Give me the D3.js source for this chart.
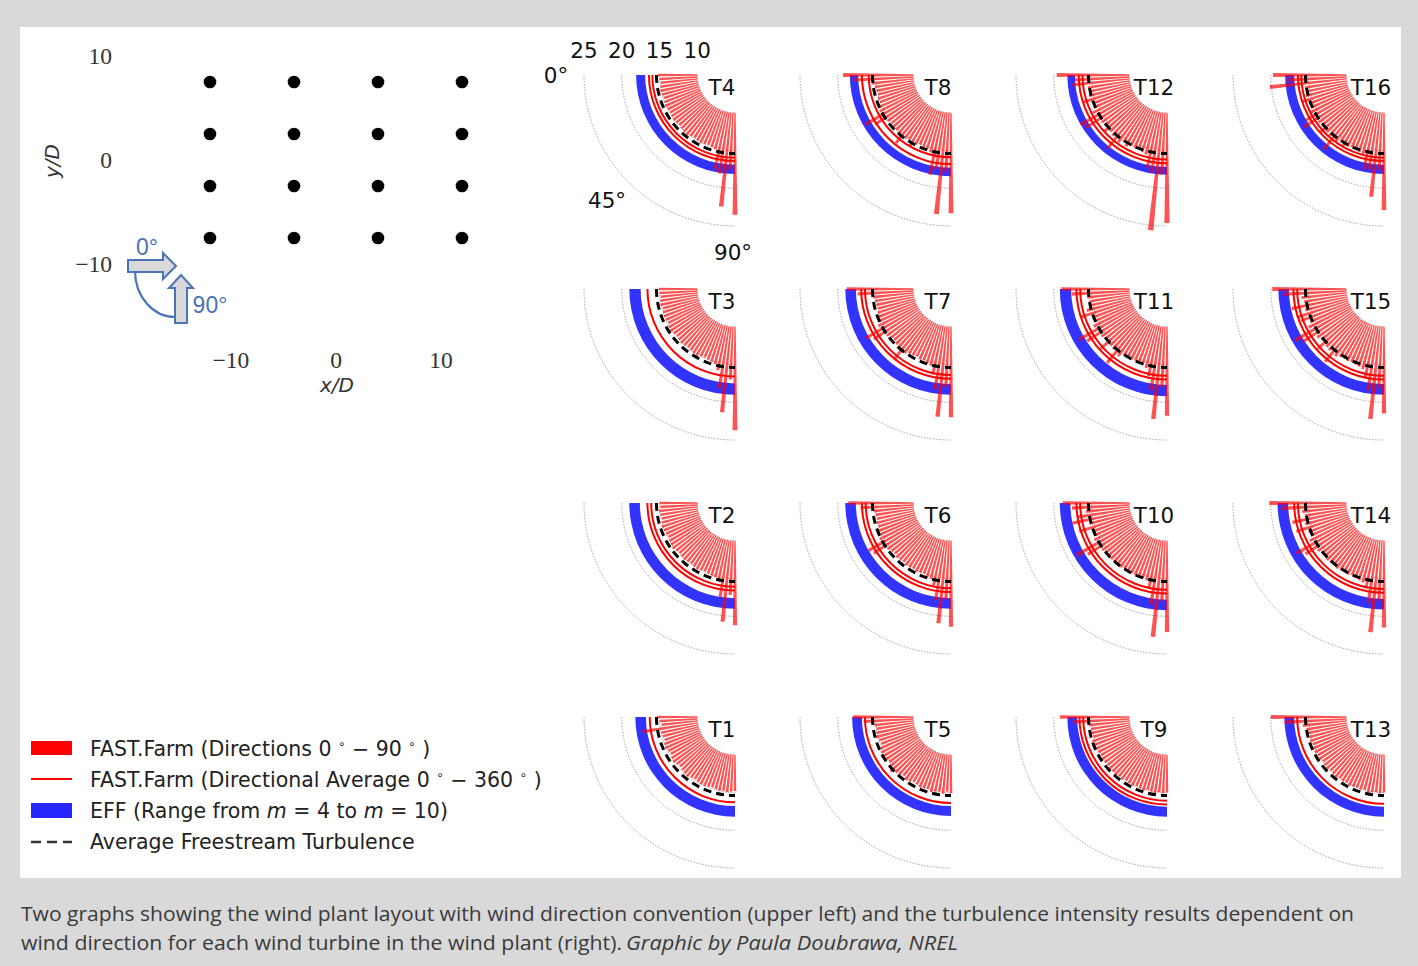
<!DOCTYPE html>
<html>
<head>
<meta charset="utf-8">
<script src="https://cdn.jsdelivr.net/npm/d3@7"></script>
<style>
  body { margin: 0; background: #d9d9d9; }
  svg { display: block; }
</style>
</head>
<body>
<script>
// wind directions of the bars (deg)
const angles = [0, 3, 6, 9, 12, 15, 18, 21, 24, 27, 30, 33, 36, 39, 42, 45,
  48, 51, 54, 57, 60, 63, 66, 69, 72, 75, 78, 81, 84, 87, 90];

// FAST.Farm turbulence intensity per direction (%)
const tiT1 = [15.3,15.0,14.8,17.4,15.0,14.9,14.8,15.0,15.1,14.9,14.8,15.0,15.1,14.9,14.8,14.9,15.0,15.1,14.9,14.8,14.9,15.0,15.0,14.9,14.8,14.9,15.0,14.9,15.0,14.9,14.8];
const tiT2 = [15.0,14.9,15.1,15.0,14.9,15.0,15.2,15.1,15.0,14.9,15.0,15.1,15.2,15.0,14.9,15.0,15.1,15.0,14.9,15.0,15.1,15.0,14.9,15.0,15.1,15.2,15.6,17.6,20.8,17.2,21.2];
const tiT3 = [15.1,15.0,14.9,15.0,15.1,14.9,15.0,15.1,15.0,14.9,15.1,15.2,15.0,14.9,15.0,15.1,15.0,14.9,15.0,15.1,15.2,15.0,14.9,15.0,15.1,15.3,16.0,18.3,21.4,17.0,23.7];
const tiT4 = [15.2,15.0,14.9,15.0,15.1,15.0,14.9,15.0,15.1,15.0,14.9,15.0,15.1,15.0,14.9,15.0,15.1,15.2,15.0,14.9,15.0,15.1,15.0,14.9,15.0,15.2,17.8,18.2,22.5,17.5,23.5];
const tiT5 = [18.0,16.6,15.2,15.0,15.1,15.3,15.0,14.9,15.2,15.4,15.6,15.3,15.1,15.5,15.8,15.4,15.2,15.0,15.3,15.1,14.9,15.0,15.2,15.1,15.0,15.3,15.1,15.0,15.2,14.9,15.1];
const tiT6 = [18.6,17.0,15.3,15.1,15.0,15.2,15.1,15.3,15.2,15.6,17.6,17.2,15.4,15.1,15.0,15.2,15.1,15.0,15.2,15.1,15.0,15.2,15.1,15.0,15.3,15.4,16.2,18.0,21.0,17.8,21.4];
const tiT7 = [18.8,17.4,15.4,15.2,15.1,15.0,15.2,15.3,15.4,15.8,18.0,17.2,15.5,15.2,15.1,15.3,15.6,16.8,15.5,15.2,15.1,15.0,15.2,15.1,15.3,15.5,16.6,18.4,22.0,18.0,22.0];
const tiT8 = [19.3,18.0,15.5,15.2,15.1,15.0,15.2,15.1,15.3,15.6,18.1,17.0,15.4,15.1,15.2,15.3,15.5,16.6,15.4,15.2,15.8,15.3,15.1,15.2,15.3,15.6,18.5,17.6,23.5,17.8,23.3];
const tiT9 = [19.2,17.5,15.4,15.2,15.3,15.1,15.4,15.6,15.3,15.2,15.1,15.3,15.2,15.1,15.4,15.2,15.3,15.1,15.2,15.0,15.1,15.2,15.0,15.1,15.2,15.0,15.1,15.2,15.0,15.1,15.0];
const tiT10 = [18.8,17.6,15.8,17.0,17.8,15.6,17.2,15.5,15.4,15.8,18.8,17.5,15.6,15.4,15.3,15.5,15.4,15.3,15.5,15.4,15.3,15.4,15.5,15.3,15.4,15.6,16.4,18.6,22.8,18.0,22.1];
const tiT11 = [19.0,17.6,15.6,15.4,15.5,16.0,17.0,15.6,15.5,15.9,18.4,17.6,15.7,15.5,16.8,15.6,15.7,17.6,16.0,15.5,15.4,15.5,15.4,15.5,15.6,15.8,16.8,18.5,22.3,18.0,21.8];
const tiT12 = [19.6,17.2,17.6,15.6,15.5,15.7,16.6,15.5,15.6,16.0,18.2,17.8,15.7,15.6,16.2,15.6,15.8,17.5,16.0,15.6,15.9,15.5,15.6,15.5,15.7,15.9,17.5,18.0,25.7,18.2,24.6];
const tiT13 = [20.0,18.2,15.8,15.4,15.3,15.2,15.3,15.1,15.2,15.3,15.1,15.2,15.0,15.1,15.2,15.0,15.1,15.2,15.0,15.1,15.0,15.2,15.1,15.0,15.1,15.0,15.2,15.1,15.0,15.1,15.0];
const tiT14 = [20.2,18.6,15.9,15.6,17.4,15.8,17.2,15.7,15.6,16.0,18.4,17.4,15.8,15.6,15.5,15.7,15.6,15.5,15.7,15.6,15.5,15.6,15.5,15.6,15.7,15.9,16.6,18.4,22.2,18.0,21.5];
const tiT15 = [19.8,18.4,16.0,15.7,17.5,15.8,17.0,16.8,15.7,16.2,18.6,17.8,15.9,15.7,16.8,15.8,15.9,17.4,16.0,15.7,15.6,15.7,15.6,15.7,15.8,16.0,17.0,18.6,22.3,18.2,21.5];
const tiT16 = [19.7,17.8,20.2,15.6,15.5,15.7,16.5,15.6,15.5,15.9,17.0,17.6,15.7,15.6,16.4,15.7,15.8,17.7,15.9,15.6,15.8,15.6,15.5,15.6,15.7,15.9,17.8,17.6,21.2,17.6,22.9];

// per turbine T1..T16
const turbineNames = ["T1","T2","T3","T4","T5","T6","T7","T8","T9","T10","T11","T12","T13","T14","T15","T16"];
const effLow  = [16.8,17.6,17.5,16.9, 16.8,17.6,17.6,17.3, 16.9,17.8,17.7,17.2, 16.9,17.7,17.6,16.9];
const effHigh = [18.2,19.0,19.0,18.1, 18.1,19.0,19.0,18.4, 18.2,19.2,19.2,18.2, 18.2,19.1,19.0,18.1];
const avgOuter = [16.3,16.6,16.6,16.4, 16.4,16.8,16.9,16.8, 16.6,17.0,17.0,16.7, 16.5,16.9,17.0,16.4];
const avgInner = [null,16.1,null,15.95, null,16.3,16.4,15.9, 16.1,16.5,16.5,16.2, null,16.4,16.5,15.95];
const freestream = 15.4;

// layout (x/D, y/D)
const layoutX = [-12, -4, 4, 12];
const layoutY = [7.5, 2.5, -2.5, -7.5];
const layoutTicks = [-10, 0, 10];

const radialTicks = [25, 20, 15, 10];
const gridRadii = [10, 15, 20, 25];
const angleLabels = [0, 45, 90];

const tiSeries = [tiT1,tiT2,tiT3,tiT4,tiT5,tiT6,tiT7,tiT8,tiT9,tiT10,tiT11,tiT12,tiT13,tiT14,tiT15,tiT16];

// polar panel placement
const panelRows = [["T4","T8","T12","T16"],["T3","T7","T11","T15"],["T2","T6","T10","T14"],["T1","T5","T9","T13"]];
const colX = [735, 951, 1167, 1384];
const rowY = [75, 289, 503, 717];

const width = 1418;
const height = 966;

const svg = d3.select("body").append("svg")
  .attr("width", width)
  .attr("height", height);

svg.append("rect").attr("width", width).attr("height", height).attr("fill", "#d9d9d9");
svg.append("rect").attr("x", 20).attr("y", 27).attr("width", 1381).attr("height", 851).attr("fill", "#fff");

// radial & angular scales
const r = d3.scaleLinear().domain([5, 25]).range([0, 151]);
const ang = d3.scaleLinear().domain([0, 90]).range([-Math.PI / 2, -Math.PI]); // d3.arc convention
const barWidth = 2.0;

// arc line from 0° to 90° at value v (canvas angles: west = PI, south = PI/2)
function arcLine(v) {
  const p = d3.path();
  const rad = r(v);
  p.moveTo(-rad, 0);
  p.arc(0, 0, rad, Math.PI, Math.PI / 2, true);
  return p.toString();
}

const barArc = d3.arc()
  .innerRadius(r(10))
  .outerRadius(d => r(d.v))
  .startAngle(d => ang(d.a - barWidth / 2))
  .endAngle(d => ang(d.a + barWidth / 2));

panelRows.forEach((row, ri) => {
  row.forEach((name, ci) => {
    const idx = turbineNames.indexOf(name);
    const g = svg.append("g")
      .attr("transform", `translate(${colX[ci]},${rowY[ri]})`);

    // grid
    g.selectAll("path.grid").data(gridRadii).enter().append("path")
      .attr("class", "grid")
      .attr("d", d => arcLine(d))
      .attr("fill", "none")
      .attr("stroke", "#999")
      .attr("stroke-width", 0.9)
      .attr("stroke-dasharray", "1.5,1.5");

    // EFF band
    g.append("path")
      .attr("d", d3.arc()
        .innerRadius(r(effLow[idx]))
        .outerRadius(r(effHigh[idx]))
        .startAngle(ang(0))
        .endAngle(ang(90))())
      .attr("fill", "#0000ff")
      .attr("fill-opacity", 0.8);

    // FAST.Farm bars
    g.selectAll("path.bar")
      .data(angles.map((a, i) => ({a: a, v: tiSeries[idx][i]})))
      .enter().append("path")
        .attr("class", "bar")
        .attr("d", barArc)
        .attr("fill", "#ff0000")
        .attr("fill-opacity", 0.68);

    // directional average
    [avgOuter[idx], avgInner[idx]].filter(v => v !== null).forEach(v => {
      g.append("path")
        .attr("d", arcLine(v))
        .attr("fill", "none")
        .attr("stroke", "#ff0000")
        .attr("stroke-width", 2);
    });

    // freestream
    g.append("path")
      .attr("d", arcLine(freestream))
      .attr("fill", "none")
      .attr("stroke", "#000")
      .attr("stroke-width", 3)
      .attr("stroke-dasharray", "8,5");

    g.append("text")
      .attr("x", -13)
      .attr("y", 20)
      .attr("text-anchor", "middle")
      .attr("font-family", "DejaVu Sans")
      .attr("font-size", 21.5)
      .attr("fill", "#111")
      .text(name);

    // axis labels only on the first panel
    if (ri === 0 && ci === 0) {
      g.selectAll("text.rtick").data(radialTicks).enter().append("text")
        .attr("class", "rtick")
        .attr("x", d => -r(d))
        .attr("y", -17)
        .attr("text-anchor", "middle")
        .attr("font-family", "DejaVu Sans")
        .attr("font-size", 21.5)
        .attr("fill", "#111")
        .text(d => d);

      g.selectAll("text.atick").data(angleLabels).enter().append("text")
        .attr("class", "atick")
        .attr("x", d => d === 0 ? -179 : d === 45 ? -128 : -2)
        .attr("y", d => d === 0 ? 8 : d === 45 ? 133 : 185)
        .attr("text-anchor", "middle")
        .attr("font-family", "DejaVu Sans")
        .attr("font-size", 21.5)
        .attr("fill", "#111")
        .text(d => d + "°");
    }
  });
});

// ---- layout plot ----
const x = d3.scaleLinear().domain([-10, 10]).range([231, 441]);
const y = d3.scaleLinear().domain([-10, 10]).range([264, 56]);

const layout = svg.append("g").attr("class", "layout");

const dots = [];
layoutX.forEach(px => layoutY.forEach(py => dots.push([px, py])));
layout.selectAll("circle").data(dots).enter().append("circle")
  .attr("cx", d => x(d[0]))
  .attr("cy", d => y(d[1]))
  .attr("r", 6.3)
  .attr("fill", "#000");

layout.selectAll("text.xt").data(layoutTicks).enter().append("text")
  .attr("class", "xt")
  .attr("x", d => x(d))
  .attr("y", 368)
  .attr("text-anchor", "middle")
  .attr("font-family", "Liberation Serif")
  .attr("font-size", 23.5)
  .attr("fill", "#333")
  .text(d => d < 0 ? "\u2212" + Math.abs(d) : d);

layout.selectAll("text.yt").data(layoutTicks).enter().append("text")
  .attr("class", "yt")
  .attr("x", 112)
  .attr("y", d => y(d) + 8)
  .attr("text-anchor", "end")
  .attr("font-family", "Liberation Serif")
  .attr("font-size", 23.5)
  .attr("fill", "#333")
  .text(d => d < 0 ? "\u2212" + Math.abs(d) : d);

layout.append("text")
  .attr("x", 337)
  .attr("y", 392)
  .attr("text-anchor", "middle")
  .attr("font-family", "DejaVu Sans")
  .attr("font-style", "italic")
  .attr("font-size", 20)
  .attr("fill", "#333")
  .text("x/D");

layout.append("text")
  .attr("transform", "translate(59,161) rotate(-90)")
  .attr("text-anchor", "middle")
  .attr("font-family", "DejaVu Sans")
  .attr("font-style", "italic")
  .attr("font-size", 20)
  .attr("fill", "#333")
  .text("y/D");

// wind direction convention
const conv = svg.append("g").attr("class", "convention");
const arrowBlue = "#4a73b8";
conv.append("path")
  .attr("d", "M135,271 A40,46 0 0 0 175,317")
  .attr("fill", "none")
  .attr("stroke", arrowBlue)
  .attr("stroke-width", 2.2);
conv.append("path")
  .attr("d", "M128,260 L163,260 L163,253 L176,266 L163,279 L163,272 L128,272 Z")
  .attr("fill", "#d9d9d9")
  .attr("stroke", arrowBlue)
  .attr("stroke-width", 2);
conv.append("path")
  .attr("d", "M175,323 L175,288 L169,288 L181,275 L193,288 L187,288 L187,323 Z")
  .attr("fill", "#d9d9d9")
  .attr("stroke", arrowBlue)
  .attr("stroke-width", 2);
conv.append("text")
  .attr("x", 147).attr("y", 255)
  .attr("text-anchor", "middle")
  .attr("font-family", "Liberation Sans")
  .attr("font-size", 23)
  .attr("fill", arrowBlue)
  .text("0°");
conv.append("text")
  .attr("x", 210).attr("y", 313)
  .attr("text-anchor", "middle")
  .attr("font-family", "Liberation Sans")
  .attr("font-size", 23)
  .attr("fill", arrowBlue)
  .text("90°");

// ---- legend ----
const legend = svg.append("g").attr("class", "legend")
  .attr("font-family", "DejaVu Sans")
  .attr("font-size", 20.5)
  .attr("fill", "#222");

legend.append("rect").attr("x", 31).attr("y", 741).attr("width", 41).attr("height", 14)
  .attr("fill", "#ff0000");
legend.append("line").attr("x1", 31).attr("x2", 72).attr("y1", 779).attr("y2", 779)
  .attr("stroke", "#ff0000").attr("stroke-width", 2);
legend.append("rect").attr("x", 31).attr("y", 803).attr("width", 41).attr("height", 15)
  .attr("fill", "#0000ff").attr("fill-opacity", 0.85);
legend.append("line").attr("x1", 31).attr("x2", 72).attr("y1", 842).attr("y2", 842)
  .attr("stroke", "#333").attr("stroke-width", 2.5).attr("stroke-dasharray", "10,6");

function legendText(y, parts) {
  const txt = legend.append("text").attr("x", 90).attr("y", y);
  parts.forEach(p => {
    const s = txt.append("tspan").text(p.t);
    if (p.sup) s.attr("font-size", 12).attr("dy", -8);
    if (p.down) s.attr("dy", 8);
    if (p.it) s.attr("font-style", "italic");
  });
}
legendText(756, [
  {t: "FAST.Farm (Directions 0 "}, {t: "∘", sup: true}, {t: " − 90 ", down: true}, {t: "∘", sup: true}, {t: " )", down: true}
]);
legendText(787, [
  {t: "FAST.Farm (Directional Average 0 "}, {t: "∘", sup: true}, {t: " − 360 ", down: true}, {t: "∘", sup: true}, {t: " )", down: true}
]);
legendText(818, [
  {t: "EFF (Range from "}, {t: "m", it: true}, {t: " = 4 to "}, {t: "m", it: true}, {t: " = 10)"}
]);
legendText(849, [{t: "Average Freestream Turbulence"}]);

// ---- caption ----
const cap = svg.append("g")
  .attr("font-family", "Open Sans")
  .attr("font-size", 20)
  .attr("fill", "#3a3a3a");
cap.append("text")
  .attr("x", 21).attr("y", 921)
  .attr("textLength", 1333)
  .attr("lengthAdjust", "spacingAndGlyphs")
  .text("Two graphs showing the wind plant layout with wind direction convention (upper left) and the turbulence intensity results dependent on");
cap.append("text")
  .attr("x", 21).attr("y", 950)
  .attr("textLength", 601)
  .attr("lengthAdjust", "spacingAndGlyphs")
  .text("wind direction for each wind turbine in the wind plant (right).");
cap.append("text")
  .attr("x", 626).attr("y", 950)
  .attr("font-style", "italic")
  .attr("textLength", 332)
  .attr("lengthAdjust", "spacingAndGlyphs")
  .text("Graphic by Paula Doubrawa, NREL");
</script>
</body>
</html>
